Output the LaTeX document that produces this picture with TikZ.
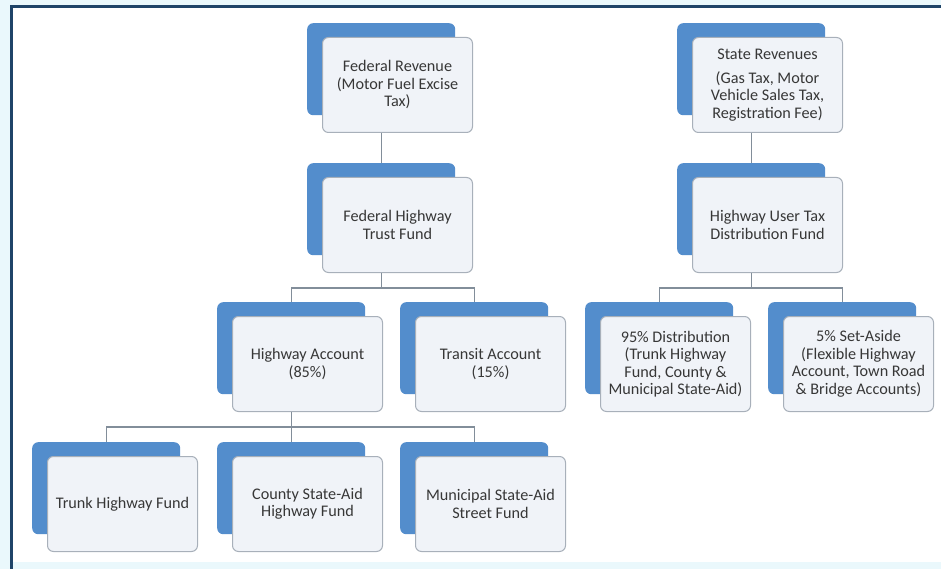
\documentclass[tikz,border=0pt]{standalone}
\usepackage{fontspec}
\setmainfont{Carlito}
\usetikzlibrary{positioning}

\definecolor{boxblue}{RGB}{83,141,204}
\definecolor{edgegray}{RGB}{168,176,186}
\definecolor{facegray}{RGB}{240,243,248}
\definecolor{linegray}{RGB}{130,142,154}
\definecolor{textgray}{RGB}{55,55,55}
\definecolor{framenavy}{RGB}{31,68,104}
\definecolor{bgcyan}{RGB}{234,248,252}

\begin{document}
\begin{tikzpicture}[x=1pt, y=-1pt,
  backbox/.style={anchor=north west, fill=boxblue, rounded corners=6pt,
    minimum width=148pt, minimum height=92pt, inner sep=0pt},
  frontbox/.style={anchor=north west, draw=edgegray, line width=1pt, fill=facegray,
    rounded corners=6pt, minimum width=150pt, minimum height=95pt, inner sep=1pt,
    align=center, text=textgray, font=\fontsize{16.2}{17.5}\selectfont},
  link/.style={draw=linegray, line width=1.2pt}]

  \useasboundingbox (0,0) rectangle (941,569);
  \fill[bgcyan] (0,0) rectangle (941,569);
  \fill[white] (12,7) rectangle (941,562);
  \draw[framenavy, line width=3pt] (11.5,569) -- (11.5,7) -- (941,7);

  % federal side
  \node[backbox] (fedrevbk) at (307,23) {};
  \node[frontbox] (fedrev) at ([shift={(15,14)}]fedrevbk.north west) {Federal Revenue\\(Motor Fuel Excise\\Tax)};
  \node[backbox] (fedtrustbk) at (307,163) {};
  \node[frontbox] (fedtrust) at ([shift={(15,14)}]fedtrustbk.north west) {Federal Highway\\Trust Fund};
  \node[backbox] (hwyacctbk) at (217,302) {};
  \node[frontbox] (hwyacct) at ([shift={(15,14)}]hwyacctbk.north west) {Highway Account\\(85\%)};
  \node[backbox] (transitbk) at (400,302) {};
  \node[frontbox] (transit) at ([shift={(15,14)}]transitbk.north west) {Transit Account\\(15\%)};
  \node[backbox] (trunkbk) at (32,442) {};
  \node[frontbox] (trunk) at ([shift={(15,14)}]trunkbk.north west) {Trunk Highway Fund};
  \node[backbox] (countybk) at (217,442) {};
  \node[frontbox] (county) at ([shift={(15,14)}]countybk.north west) {County State-Aid\\Highway Fund};
  \node[backbox] (munibk) at (400,442) {};
  \node[frontbox] (muni) at ([shift={(15,14)}]munibk.north west) {Municipal State-Aid\\Street Fund};

  % state side
  \node[backbox] (staterevbk) at (677,23) {};
  \node[frontbox] (staterev) at ([shift={(15,14)}]staterevbk.north west) {State Revenues\\[6pt](Gas Tax, Motor\\Vehicle Sales Tax,\\Registration Fee)};
  \node[backbox] (hutdfbk) at (677,163) {};
  \node[frontbox] (hutdf) at ([shift={(15,14)}]hutdfbk.north west) {Highway User Tax\\Distribution Fund};
  \node[backbox] (distbk) at (585,302) {};
  \node[frontbox] (dist) at ([shift={(15,14)}]distbk.north west) {95\% Distribution\\(Trunk Highway\\Fund, County \&\\Municipal State-Aid)};
  \node[backbox] (setasidebk) at (768,302) {};
  \node[frontbox] (setaside) at ([shift={(15,14)}]setasidebk.north west) {5\% Set-Aside\\(Flexible Highway\\Account, Town Road\\\& Bridge Accounts)};

  % connectors
  \draw[link] (fedrevbk.north |- fedrev.south) -- (fedtrustbk.north);
  \draw[link] (fedtrustbk.north |- fedtrust.south) -- ++(0,15) -| (hwyacctbk.north);
  \draw[link] (fedtrustbk.north |- fedtrust.south) -- ++(0,15) -| (transitbk.north);
  \draw[link] (hwyacctbk.north |- hwyacct.south) -- ++(0,15) -| (trunkbk.north);
  \draw[link] (hwyacctbk.north |- hwyacct.south) -- (countybk.north);
  \draw[link] (hwyacctbk.north |- hwyacct.south) -- ++(0,15) -| (munibk.north);
  \draw[link] (staterevbk.north |- staterev.south) -- (hutdfbk.north);
  \draw[link] (hutdfbk.north |- hutdf.south) -- ++(0,15) -| (distbk.north);
  \draw[link] (hutdfbk.north |- hutdf.south) -- ++(0,15) -| (setasidebk.north);

\end{tikzpicture}
\end{document}
